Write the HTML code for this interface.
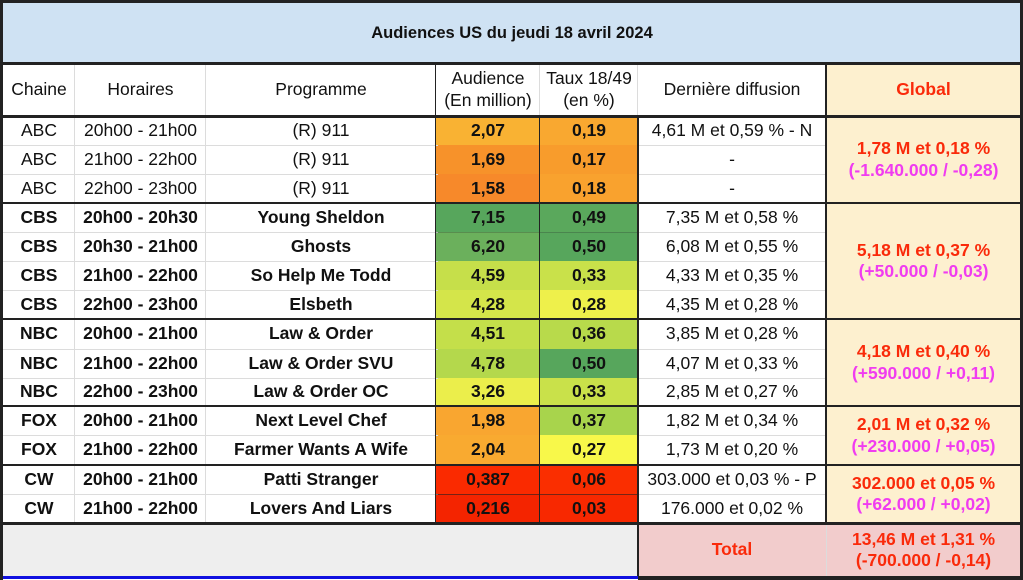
<!DOCTYPE html>
<html><head><meta charset="utf-8"><style>
body{margin:0;width:1023px;height:580px;background:#fff;position:relative;overflow:hidden;font-family:"Liberation Sans",Arial,sans-serif;color:#111}
.c{position:absolute;display:flex;align-items:center;justify-content:center;text-align:center;font-size:17.5px;box-sizing:border-box;line-height:1.22;white-space:nowrap}
.b{font-weight:bold}
.l{position:absolute;background:#222}
.g{position:absolute;background:#dcdcdc}
.r{color:#fa2a0a;font-weight:bold}
.p{color:#f03cf0;font-weight:bold}
</style></head><body>
<div class="c b" style="left:3px;top:3px;width:1018px;height:60px;background:#cfe2f3;font-size:16.5px">Audiences US du jeudi 18 avril 2024</div>
<div class="c" style="left:826px;top:63px;width:195px;height:460px;background:#fdf0cf"></div>
<div class="c" style="left:3px;top:523px;width:635px;height:54px;background:#eeeeee"></div>
<div class="c r" style="left:638px;top:523px;width:188px;height:54px;background:#f2cccc">Total</div>
<div class="c r" style="left:826px;top:523px;width:195px;height:54px;background:#f2cccc;flex-direction:column">13,46 M et 1,31 %<br>(-700.000 / -0,14)</div>

<div class="c" style="left:3px;top:63px;width:72px;height:53px">Chaine</div>
<div class="c" style="left:75px;top:63px;width:131px;height:53px">Horaires</div>
<div class="c" style="left:206px;top:63px;width:230px;height:53px">Programme</div>
<div class="c" style="left:436px;top:63px;width:104px;height:53px">Audience<br>(En million)</div>
<div class="c" style="left:540px;top:63px;width:98px;height:53px">Taux 18/49<br>(en %)</div>
<div class="c" style="left:638px;top:63px;width:188px;height:53px">Dernière diffusion</div>
<div class="c r" style="left:826px;top:63px;width:195px;height:53px">Global</div>

<div class="c" style="left:3px;top:116px;width:72px;height:29px">ABC</div><div class="c" style="left:75px;top:116px;width:131px;height:29px">20h00 - 21h00</div><div class="c" style="left:206px;top:116px;width:230px;height:29px">(R) 911</div><div class="c b" style="left:436px;top:116px;width:104px;height:29px;background:#f9b233">2,07</div><div class="c b" style="left:540px;top:116px;width:98px;height:29px;background:#f9a830">0,19</div><div class="c" style="left:638px;top:116px;width:188px;height:29px">4,61 M et 0,59 % - N</div>
<div class="c" style="left:3px;top:145px;width:72px;height:29px">ABC</div><div class="c" style="left:75px;top:145px;width:131px;height:29px">21h00 - 22h00</div><div class="c" style="left:206px;top:145px;width:230px;height:29px">(R) 911</div><div class="c b" style="left:436px;top:145px;width:104px;height:29px;background:#f7922a">1,69</div><div class="c b" style="left:540px;top:145px;width:98px;height:29px;background:#f89c2c">0,17</div><div class="c" style="left:638px;top:145px;width:188px;height:29px">-</div>
<div class="c" style="left:3px;top:174px;width:72px;height:29px">ABC</div><div class="c" style="left:75px;top:174px;width:131px;height:29px">22h00 - 23h00</div><div class="c" style="left:206px;top:174px;width:230px;height:29px">(R) 911</div><div class="c b" style="left:436px;top:174px;width:104px;height:29px;background:#f7892a">1,58</div><div class="c b" style="left:540px;top:174px;width:98px;height:29px;background:#f9a22e">0,18</div><div class="c" style="left:638px;top:174px;width:188px;height:29px">-</div>

<div class="c b" style="left:3px;top:203px;width:72px;height:29px">CBS</div><div class="c b" style="left:75px;top:203px;width:131px;height:29px">20h00 - 20h30</div><div class="c b" style="left:206px;top:203px;width:230px;height:29px">Young Sheldon</div><div class="c b" style="left:436px;top:203px;width:104px;height:29px;background:#57a65c">7,15</div><div class="c b" style="left:540px;top:203px;width:98px;height:29px;background:#5aa85c">0,49</div><div class="c" style="left:638px;top:203px;width:188px;height:29px">7,35 M et 0,58 %</div>
<div class="c b" style="left:3px;top:232px;width:72px;height:29px">CBS</div><div class="c b" style="left:75px;top:232px;width:131px;height:29px">20h30 - 21h00</div><div class="c b" style="left:206px;top:232px;width:230px;height:29px">Ghosts</div><div class="c b" style="left:436px;top:232px;width:104px;height:29px;background:#6bb05c">6,20</div><div class="c b" style="left:540px;top:232px;width:98px;height:29px;background:#57a65c">0,50</div><div class="c" style="left:638px;top:232px;width:188px;height:29px">6,08 M et 0,55 %</div>
<div class="c b" style="left:3px;top:261px;width:72px;height:29px">CBS</div><div class="c b" style="left:75px;top:261px;width:131px;height:29px">21h00 - 22h00</div><div class="c b" style="left:206px;top:261px;width:230px;height:29px">So Help Me Todd</div><div class="c b" style="left:436px;top:261px;width:104px;height:29px;background:#c6df4a">4,59</div><div class="c b" style="left:540px;top:261px;width:98px;height:29px;background:#c9e14a">0,33</div><div class="c" style="left:638px;top:261px;width:188px;height:29px">4,33 M et 0,35 %</div>
<div class="c b" style="left:3px;top:290px;width:72px;height:29px">CBS</div><div class="c b" style="left:75px;top:290px;width:131px;height:29px">22h00 - 23h00</div><div class="c b" style="left:206px;top:290px;width:230px;height:29px">Elsbeth</div><div class="c b" style="left:436px;top:290px;width:104px;height:29px;background:#d4e54a">4,28</div><div class="c b" style="left:540px;top:290px;width:98px;height:29px;background:#eef04b">0,28</div><div class="c" style="left:638px;top:290px;width:188px;height:29px">4,35 M et 0,28 %</div>

<div class="c b" style="left:3px;top:319px;width:72px;height:30px">NBC</div><div class="c b" style="left:75px;top:319px;width:131px;height:30px">20h00 - 21h00</div><div class="c b" style="left:206px;top:319px;width:230px;height:30px">Law &amp; Order</div><div class="c b" style="left:436px;top:319px;width:104px;height:30px;background:#c4df4a">4,51</div><div class="c b" style="left:540px;top:319px;width:98px;height:30px;background:#b8da4b">0,36</div><div class="c" style="left:638px;top:319px;width:188px;height:30px">3,85 M et 0,28 %</div>
<div class="c b" style="left:3px;top:349px;width:72px;height:29px">NBC</div><div class="c b" style="left:75px;top:349px;width:131px;height:29px">21h00 - 22h00</div><div class="c b" style="left:206px;top:349px;width:230px;height:29px">Law &amp; Order SVU</div><div class="c b" style="left:436px;top:349px;width:104px;height:29px;background:#b4d84c">4,78</div><div class="c b" style="left:540px;top:349px;width:98px;height:29px;background:#57a65c">0,50</div><div class="c" style="left:638px;top:349px;width:188px;height:29px">4,07 M et 0,33 %</div>
<div class="c b" style="left:3px;top:378px;width:72px;height:28px">NBC</div><div class="c b" style="left:75px;top:378px;width:131px;height:28px">22h00 - 23h00</div><div class="c b" style="left:206px;top:378px;width:230px;height:28px">Law &amp; Order OC</div><div class="c b" style="left:436px;top:378px;width:104px;height:28px;background:#ebee4b">3,26</div><div class="c b" style="left:540px;top:378px;width:98px;height:28px;background:#c9e14a">0,33</div><div class="c" style="left:638px;top:378px;width:188px;height:28px">2,85 M et 0,27 %</div>

<div class="c b" style="left:3px;top:406px;width:72px;height:29px">FOX</div><div class="c b" style="left:75px;top:406px;width:131px;height:29px">20h00 - 21h00</div><div class="c b" style="left:206px;top:406px;width:230px;height:29px">Next Level Chef</div><div class="c b" style="left:436px;top:406px;width:104px;height:29px;background:#f9a630">1,98</div><div class="c b" style="left:540px;top:406px;width:98px;height:29px;background:#a8d44c">0,37</div><div class="c" style="left:638px;top:406px;width:188px;height:29px">1,82 M et 0,34 %</div>
<div class="c b" style="left:3px;top:435px;width:72px;height:30px">FOX</div><div class="c b" style="left:75px;top:435px;width:131px;height:30px">21h00 - 22h00</div><div class="c b" style="left:206px;top:435px;width:230px;height:30px">Farmer Wants A Wife</div><div class="c b" style="left:436px;top:435px;width:104px;height:30px;background:#f9aa30">2,04</div><div class="c b" style="left:540px;top:435px;width:98px;height:30px;background:#f8f84a">0,27</div><div class="c" style="left:638px;top:435px;width:188px;height:30px">1,73 M et 0,20 %</div>

<div class="c b" style="left:3px;top:465px;width:72px;height:29px">CW</div><div class="c b" style="left:75px;top:465px;width:131px;height:29px">20h00 - 21h00</div><div class="c b" style="left:206px;top:465px;width:230px;height:29px">Patti Stranger</div><div class="c b" style="left:436px;top:465px;width:104px;height:29px;background:#fa2a00">0,387</div><div class="c b" style="left:540px;top:465px;width:98px;height:29px;background:#fa2e00">0,06</div><div class="c" style="left:638px;top:465px;width:188px;height:29px">303.000 et 0,03 % - P</div>
<div class="c b" style="left:3px;top:494px;width:72px;height:29px">CW</div><div class="c b" style="left:75px;top:494px;width:131px;height:29px">21h00 - 22h00</div><div class="c b" style="left:206px;top:494px;width:230px;height:29px">Lovers And Liars</div><div class="c b" style="left:436px;top:494px;width:104px;height:29px;background:#f42400">0,216</div><div class="c b" style="left:540px;top:494px;width:98px;height:29px;background:#f82800">0,03</div><div class="c" style="left:638px;top:494px;width:188px;height:29px">176.000 et 0,02 %</div>

<div class="c" style="left:826px;top:116px;width:195px;height:87px;flex-direction:column"><span class="r">1,78 M et 0,18 %</span><span class="p">(-1.640.000 / -0,28)</span></div>
<div class="c" style="left:826px;top:203px;width:195px;height:116px;flex-direction:column"><span class="r">5,18 M et 0,37 %</span><span class="p">(+50.000 / -0,03)</span></div>
<div class="c" style="left:826px;top:319px;width:195px;height:87px;flex-direction:column"><span class="r">4,18 M et 0,40 %</span><span class="p">(+590.000 / +0,11)</span></div>
<div class="c" style="left:826px;top:406px;width:195px;height:59px;flex-direction:column"><span class="r">2,01 M et 0,32 %</span><span class="p">(+230.000 / +0,05)</span></div>
<div class="c" style="left:826px;top:465px;width:195px;height:58px;flex-direction:column"><span class="r">302.000 et 0,05 %</span><span class="p">(+62.000 / +0,02)</span></div>

<div class="g" style="left:3px;top:145px;width:435px;height:1px"></div><div class="g" style="left:3px;top:174px;width:435px;height:1px"></div>
<div class="g" style="left:3px;top:232px;width:435px;height:1px"></div><div class="g" style="left:3px;top:261px;width:435px;height:1px"></div><div class="g" style="left:3px;top:290px;width:435px;height:1px"></div>
<div class="g" style="left:3px;top:349px;width:435px;height:1px"></div><div class="g" style="left:3px;top:378px;width:435px;height:1px"></div>
<div class="g" style="left:3px;top:435px;width:435px;height:1px"></div><div class="g" style="left:3px;top:494px;width:435px;height:1px"></div>
<div class="g" style="left:638px;top:145px;width:188px;height:1px"></div><div class="g" style="left:638px;top:174px;width:188px;height:1px"></div>
<div class="g" style="left:638px;top:232px;width:188px;height:1px"></div><div class="g" style="left:638px;top:261px;width:188px;height:1px"></div><div class="g" style="left:638px;top:290px;width:188px;height:1px"></div>
<div class="g" style="left:638px;top:349px;width:188px;height:1px"></div><div class="g" style="left:638px;top:378px;width:188px;height:1px"></div>
<div class="g" style="left:638px;top:435px;width:188px;height:1px"></div><div class="g" style="left:638px;top:494px;width:188px;height:1px"></div>
<div class="g" style="left:74px;top:63px;width:1px;height:460px"></div><div class="g" style="left:205px;top:63px;width:1px;height:460px"></div>
<div class="g" style="left:539px;top:63px;width:1px;height:53px"></div><div class="g" style="left:637px;top:63px;width:1px;height:53px"></div>
<div class="g" style="left:826px;top:523px;width:1px;height:54px"></div>

<div class="l" style="left:436px;top:232px;width:202px;height:1px;opacity:.25"></div>
<div class="l" style="left:436px;top:494px;width:202px;height:1px;opacity:.6"></div>
<div class="l" style="left:435px;top:63px;width:1px;height:460px"></div>
<div class="l" style="left:539px;top:116px;width:1px;height:407px"></div>
<div class="l" style="left:637px;top:116px;width:2px;height:461px"></div>
<div class="l" style="left:825px;top:63px;width:2px;height:460px"></div>
<div class="l" style="left:3px;top:62px;width:1018px;height:3px"></div>
<div class="l" style="left:3px;top:115px;width:1018px;height:3px"></div>
<div class="l" style="left:3px;top:202px;width:1018px;height:2px"></div>
<div class="l" style="left:3px;top:318px;width:1018px;height:2px"></div>
<div class="l" style="left:3px;top:405px;width:1018px;height:2px"></div>
<div class="l" style="left:3px;top:464px;width:1018px;height:2px"></div>
<div class="l" style="left:3px;top:522px;width:1018px;height:3px"></div>
<div class="l" style="left:0;top:0;width:1023px;height:3px"></div>
<div class="l" style="left:0;top:0;width:3px;height:580px"></div>
<div class="l" style="left:1020px;top:0;width:3px;height:580px"></div>
<div class="l" style="left:638px;top:576px;width:385px;height:4px"></div>
<div style="position:absolute;left:3px;top:576px;width:635px;height:3px;background:#1010e0"></div>
</body></html>
